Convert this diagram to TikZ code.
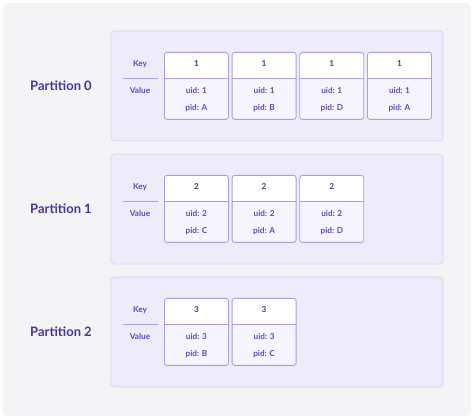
\documentclass[tikz,border=0pt]{standalone}
\usepackage{fontspec}
\setmainfont{Lato}
\usetikzlibrary{positioning}
\definecolor{panel}{HTML}{F4F4F6}
\definecolor{boxfill}{HTML}{EEECFB}
\definecolor{boxline}{HTML}{D8D2F4}
\definecolor{cardline}{HTML}{A99EE2}
\definecolor{cardfill}{HTML}{F6F4FE}
\definecolor{darkink}{HTML}{4335A6}
\definecolor{ink}{HTML}{5A4BBE}

\begin{document}
\begin{tikzpicture}[x=1pt,y=-1pt,
	partbox/.style={draw=boxline, fill=boxfill, rounded corners=4pt, line width=0.8pt},
	card/.style={draw=cardline, fill=cardfill, rounded corners=2.5pt, line width=0.8pt,
		minimum width=64pt, minimum height=67pt, inner sep=0pt, anchor=north west,
		path picture={
			\fill[white] (path picture bounding box.north west) rectangle ([yshift=-26pt]path picture bounding box.north east);
			\draw[cardline, line width=0.8pt] ([yshift=-26pt]path picture bounding box.north west) -- ([yshift=-26pt]path picture bounding box.north east);
		}},
	small/.style={font=\fontsize{8.2}{10}\selectfont\bfseries, text=ink, inner sep=1pt},
	keytxt/.style={small, text=darkink},
	partlbl/.style={font=\fontsize{13}{15}\selectfont\bfseries, text=darkink}]
	\useasboundingbox (0,0) rectangle (474,419);
	\fill[panel, rounded corners=4pt] (3,3) rectangle (471,416);
	% one row per partition: pid of each record
	\foreach \p/\pids in {0/{A,B,D,A}, 1/{C,A,D}, 2/{B,C}} {
		\pgfmathsetmacro\top{31+123*\p}
		\pgfmathtruncatemacro\k{\p+1}
		\draw[partbox] (111,\top) rectangle (443,\top+110);
		\node[partlbl] (part\p) at (61,\top+55) {Partition \p};
		\node[small] (keylbl\p) at (140,\top+33) {Key};
		\node[small] (vallbl\p) at (140,\top+59) {Value};
		\draw[cardline, line width=0.8pt] (123,\top+47) -- (158,\top+47);
		\foreach \pid [count=\i from 0] in \pids {
			\node[card] (card\p-\i) at (164+67.7*\i,\top+21) {};
			\node[keytxt] (key\p-\i) at ([yshift=-12pt]card\p-\i.north) {\k};
			\node[small] (uid\p-\i) at ([yshift=-38pt]card\p-\i.north) {uid: \k};
			\node[small] (pid\p-\i) at ([yshift=-56pt]card\p-\i.north) {pid: \pid};
		}
	}
\end{tikzpicture}
\end{document}
